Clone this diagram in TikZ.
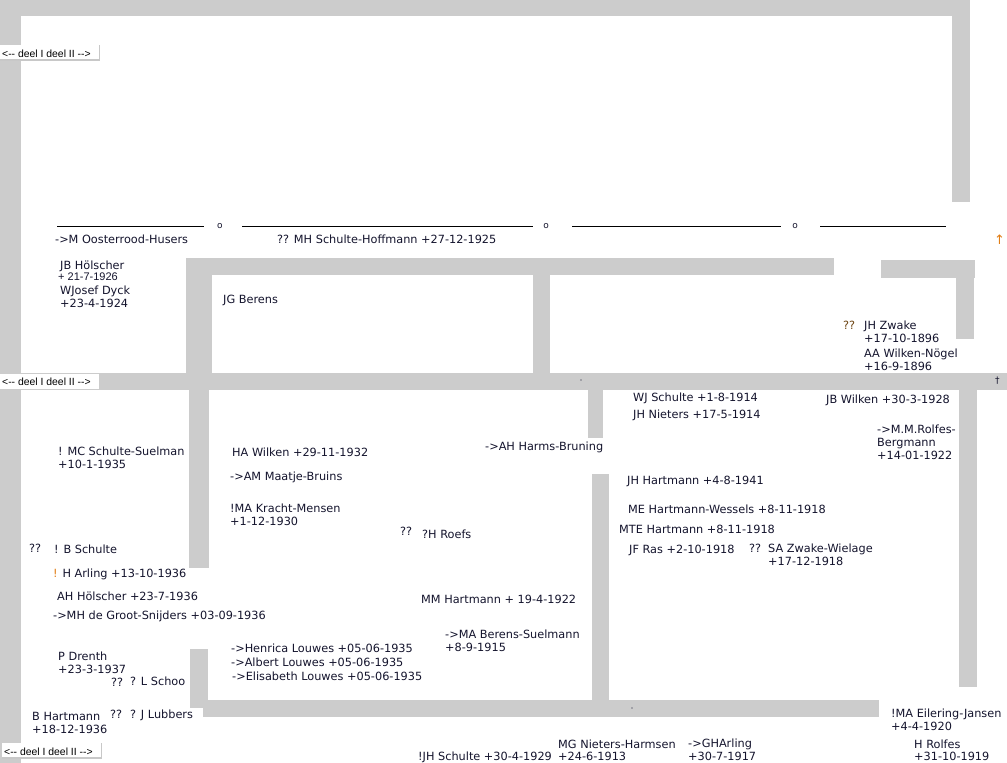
\documentclass[tikz,border=0pt]{standalone}
\usepackage{fontspec}
\setmainfont{DejaVu Sans}
\newfontfamily\arialf{Liberation Sans}
\definecolor{ink}{RGB}{20,20,45}
\definecolor{barg}{RGB}{204,204,204}
\definecolor{edgeg}{RGB}{200,200,200}
\definecolor{orng}{RGB}{225,125,20}
\definecolor{brwn}{RGB}{110,70,20}
\tikzset{
  bar/.style={fill=barg},
  txt/.style={anchor=base west, inner sep=0pt, text=ink, font=\fontsize{11.3}{13}\selectfont},
  small/.style={anchor=base west, inner sep=0pt, text=ink, font=\arialf\fontsize{11}{13}\selectfont},
  deeltxt/.style={anchor=base west, inner sep=0pt, text=black, font=\arialf\fontsize{10.4}{12}\selectfont},
  deelbox/.style={anchor=north west, fill=white, inner sep=0pt, minimum width=99pt, minimum height=14.5pt},
  omark/.style={anchor=base, inner sep=0pt, text=ink, font=\fontsize{9}{10}\selectfont},
  rule/.style={draw=black, line width=1pt}
}
\begin{document}
\begin{tikzpicture}[x=1pt,y=-1pt]
\useasboundingbox (0,0) rectangle (1007,763);
\fill[white] (0,0) rectangle (1007,763);
% gray bars
\fill[bar] (0,0) rectangle (970,16);
\fill[bar] (0,0) rectangle (21,763);
\fill[bar] (952,0) rectangle (970,202);
\fill[bar] (0,373) rectangle (1007,390);
\fill[bar] (186,258) rectangle (834,275);
\fill[bar] (186,258) rectangle (212,373);
\fill[bar] (533,275) rectangle (550,373);
\fill[bar] (881,260) rectangle (975,278);
\fill[bar] (956,278) rectangle (974,339);
\fill[bar] (189,390) rectangle (209,568);
\fill[bar] (588,390) rectangle (603,438);
\fill[bar] (592,474) rectangle (609,700);
\fill[bar] (959,390) rectangle (977,687);
\fill[bar] (190,649) rectangle (208,717);
\fill[bar] (190,700) rectangle (879,717);
\fill[white] (108,708) rectangle (203,717);
% dots
\fill[ink] (581,380) circle (0.6);
\fill[ink] (632,708) circle (0.6);
% deel labels
\node[deelbox] (d1) at (0,45) {};
\draw[edgeg, line width=1.5pt] (d1.north east) -- (d1.south east) -- (d1.south west);
\node[deeltxt] (d1t) at (2,57) {<-{}- deel I deel II -{}->};
\node[deelbox] (d2) at (0,374) {};
\node[deeltxt] (d2t) at (2,385) {<-{}- deel I deel II -{}->};
\node[deelbox] (d3) at (2,743) {};
\draw[edgeg, line width=1.5pt] (d3.north east) -- (d3.south east) -- (d3.south west);
\node[deeltxt] (d3t) at (4,755) {<-{}- deel I deel II -{}->};
% marriage line with o marks
\node[omark] (o1) at (220,228) {o};
\node[omark] (o2) at (546,228) {o};
\node[omark] (o3) at (795,228) {o};
\coordinate (a0) at (57,226);
\coordinate (a1) at (204,226);
\coordinate (a2) at (242,226);
\coordinate (a3) at (533,226);
\coordinate (a4) at (572,226);
\coordinate (a5) at (781,226);
\coordinate (a6) at (820,226);
\coordinate (a7) at (946,226);
\draw[rule] (a0) -- (a1);
\draw[rule] (a2) -- (a3);
\draw[rule] (a4) -- (a5);
\draw[rule] (a6) -- (a7);
\node[anchor=base, inner sep=0pt, text=orng, font=\fontsize{13}{14}\selectfont] (up) at (999.5,244) {↑};
\node[anchor=base west, inner sep=0pt, text=ink, font=\fontsize{9}{10}\selectfont] (dag) at (995,383) {†};
% upper texts
\node[txt] (t1) at (55,243) {->M Oosterrood-Husers};
\node[txt] (t2) at (277,243) {?? MH Schulte-Hoffmann +27-12-1925};
\node[txt] (t3) at (60,269) {JB Hölscher};
\node[small] (t4) at (58,280) {+ 21-7-1926};
\node[txt] (t5) at (60,294) {WJosef Dyck};
\node[txt] (t6) at (60,307) {+23-4-1924};
\node[txt] (t7) at (223,303) {JG Berens};
\node[txt, text=brwn] (t8) at (843,329) {??};
\node[txt] (t9) at (864,329) {JH Zwake};
\node[txt] (t10) at (864,342) {+17-10-1896};
\node[txt] (t11) at (864,357) {AA Wilken-Nögel};
\node[txt] (t12) at (864,370) {+16-9-1896};
% middle texts
\node[txt] (t13) at (58,455) {! MC Schulte-Suelman};
\node[txt] (t14) at (58,468) {+10-1-1935};
\node[txt] (t15) at (232,456) {HA Wilken +29-11-1932};
\node[txt] (t16) at (230,480) {->AM Maatje-Bruins};
\node[txt] (t17) at (230,512) {!MA Kracht-Mensen};
\node[txt] (t18) at (230,525) {+1-12-1930};
\node[txt] (t19) at (400,535) {??};
\node[txt] (t20) at (422,538) {?H Roefs};
\node[txt] (t21) at (29,552) {??};
\node[txt] (t22) at (54,553) {! B Schulte};
\node[txt] (t23) at (53,577) {\textcolor{orng}{!} H Arling +13-10-1936};
\node[txt] (t24) at (57,600) {AH Hölscher +23-7-1936};
\node[txt] (t25) at (53,619) {->MH de Groot-Snijders +03-09-1936};
\node[txt] (t26) at (58,660) {P Drenth};
\node[txt] (t27) at (58,673) {+23-3-1937};
\node[txt] (t28) at (111,686) {??};
\node[txt] (t29) at (130,685) {? L Schoo};
\node[txt] (t30) at (32,720) {B Hartmann};
\node[txt] (t31) at (32,733) {+18-12-1936};
\node[txt] (t32) at (110,718) {??};
\node[txt] (t33) at (130,718) {? J Lubbers};
\node[txt] (t34) at (231,652) {->Henrica Louwes +05-06-1935};
\node[txt] (t35) at (231,666) {->Albert Louwes +05-06-1935};
\node[txt] (t36) at (232,680) {->Elisabeth Louwes +05-06-1935};
\node[txt] (t37) at (421,603) {MM Hartmann + 19-4-1922};
\node[txt] (t38) at (445,638) {->MA Berens-Suelmann};
\node[txt] (t39) at (445,651) {+8-9-1915};
\node[txt] (t40) at (485,450) {->AH Harms-Bruning};
\node[txt] (t41) at (633,401) {WJ Schulte +1-8-1914};
\node[txt] (t42) at (633,418) {JH Nieters +17-5-1914};
\node[txt] (t43) at (826,403) {JB Wilken +30-3-1928};
\node[txt] (t44) at (877,433) {->M.M.Rolfes-};
\node[txt] (t45) at (877,446) {Bergmann};
\node[txt] (t46) at (877,459) {+14-01-1922};
\node[txt] (t47) at (627,484) {JH Hartmann +4-8-1941};
\node[txt] (t48) at (628,513) {ME Hartmann-Wessels +8-11-1918};
\node[txt] (t49) at (619,533) {MTE Hartmann +8-11-1918};
\node[txt] (t50) at (629,553) {JF Ras +2-10-1918};
\node[txt] (t51) at (749,552) {??};
\node[txt] (t52) at (768,552) {SA Zwake-Wielage};
\node[txt] (t53) at (768,565) {+17-12-1918};
% bottom texts
\node[txt] (t54) at (891,717) {!MA Eilering-Jansen};
\node[txt] (t55) at (891,730) {+4-4-1920};
\node[txt] (t56) at (914,748) {H Rolfes};
\node[txt] (t57) at (914,760) {+31-10-1919};
\node[txt] (t58) at (418,760) {!JH Schulte +30-4-1929};
\node[txt] (t59) at (558,748) {MG Nieters-Harmsen};
\node[txt] (t60) at (558,760) {+24-6-1913};
\node[txt] (t61) at (688,747) {->GHArling};
\node[txt] (t62) at (688,760) {+30-7-1917};
\end{tikzpicture}
\end{document}
